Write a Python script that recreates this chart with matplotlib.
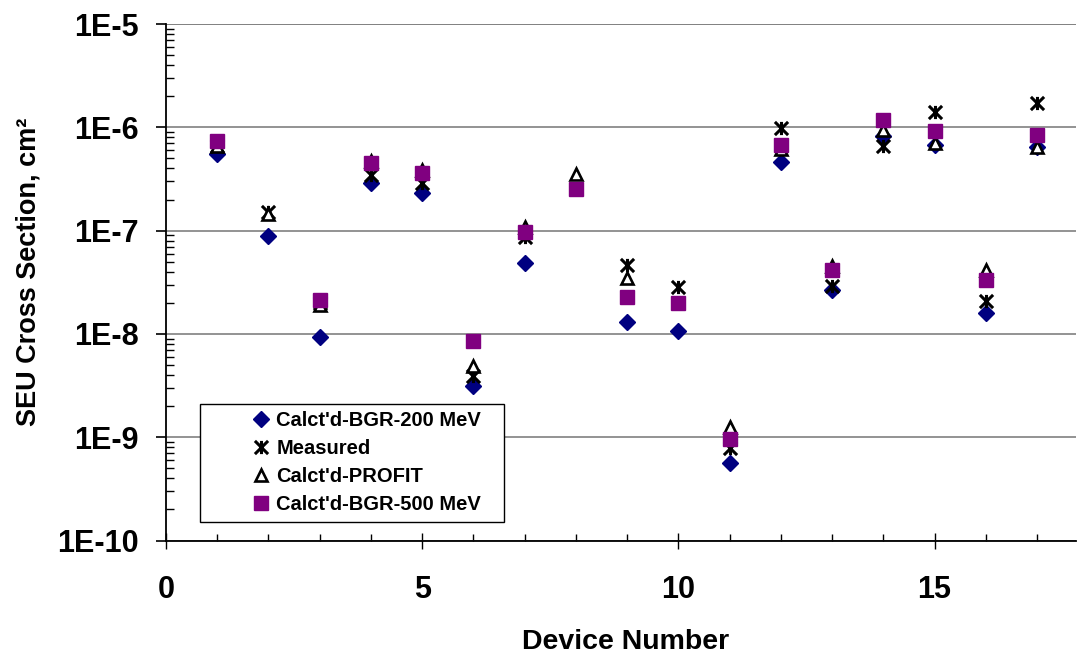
import numpy as np
import matplotlib
matplotlib.use('Agg')
import matplotlib.pyplot as plt
from matplotlib.path import Path
from matplotlib.patches import Rectangle
from matplotlib.ticker import FixedLocator, FuncFormatter, MultipleLocator

# device numbers and cross sections (cm^2); nan = point not shown
devices = np.arange(1, 18)
bgr200 = [5.5e-7, 8.8e-8, 9.4e-9, 2.9e-7, 2.3e-7, 3.1e-9, 4.9e-8, np.nan, 1.3e-8,
          1.07e-8, 5.6e-10, 4.6e-7, 2.65e-8, 8.2e-7, 6.8e-7, 1.6e-8, 6.4e-7]
measured = [6.6e-7, 1.5e-7, 2.0e-8, 3.45e-7, 2.9e-7, 3.9e-9, 8.6e-8, np.nan, 4.6e-8,
            2.85e-8, 7.9e-10, 9.8e-7, 2.9e-8, 6.6e-7, 1.42e-6, 2.1e-8, 1.72e-6]
profit = [6.6e-7, 1.45e-7, 1.9e-8, 4.7e-7, 3.9e-7, 4.9e-9, 1.09e-7, 3.55e-7, 3.45e-8,
          np.nan, 1.25e-9, 6.2e-7, 4.5e-8, 9.5e-7, 7.1e-7, 4.2e-8, 6.5e-7]
bgr500 = [7.4e-7, np.nan, 2.13e-8, 4.5e-7, 3.65e-7, 8.5e-9, 9.6e-8, 2.55e-7, 2.3e-8,
          1.97e-8, 9.6e-10, 6.7e-7, 4.2e-8, 1.17e-6, 9.3e-7, 3.3e-8, 8.5e-7]
labels = ["Calct'd-BGR-200 MeV", "Measured", "Calct'd-PROFIT", "Calct'd-BGR-500 MeV"]
y_decades = [1e-10, 1e-9, 1e-8, 1e-7, 1e-6, 1e-5]

plt.rcParams['font.family'] = ['Liberation Sans', 'DejaVu Sans']
plt.rcParams['font.weight'] = 'bold'

# excel style star: x plus vertical bar
star = Path([(-1, -1), (1, 1), (-1, 1), (1, -1), (0, -1), (0, 1)],
            [Path.MOVETO, Path.LINETO, Path.MOVETO, Path.LINETO, Path.MOVETO, Path.LINETO])

fig = plt.figure(figsize=(10.78, 6.54), dpi=100)
W, H = 1078, 654
ax = fig.add_axes([166 / W, (H - 540.5) / H, 910 / W, 516.5 / H])

ax.plot(devices, bgr200, linestyle='none', marker='D', ms=8, mfc='#000080',
        mec='#000080', mew=1, label=labels[0], zorder=3)
ax.plot(devices, measured, linestyle='none', marker=star, ms=9.5, mec='black',
        mew=2.2, label=labels[1], zorder=4)
ax.plot(devices, profit, linestyle='none', marker='^', ms=9, mfc='white',
        mec='black', mew=1.9, label=labels[2], zorder=5)
ax.plot(devices, bgr500, linestyle='none', marker='s', ms=10.5, mfc='#800080',
        mec='#800080', mew=1, label=labels[3], zorder=6)

ax.set_yscale('log')
ax.set_ylim(1e-10, 1e-5)
ax.set_xlim(0, 17.76)

ax.yaxis.set_major_locator(FixedLocator(y_decades))
ax.yaxis.set_major_formatter(FuncFormatter(lambda v, p: '1E%d' % round(np.log10(v))))
ax.xaxis.set_major_locator(MultipleLocator(5))
ax.xaxis.set_minor_locator(MultipleLocator(1))

ax.tick_params(axis='y', which='major', direction='out', length=7.2, width=1.2,
               pad=12.5, labelsize=22)
ax.tick_params(axis='y', which='minor', direction='in', length=5.8, width=1.0)
ax.tick_params(axis='x', which='major', direction='inout', length=12, width=1.0,
               pad=19, labelsize=22)
ax.tick_params(axis='x', which='minor', direction='in', length=5, width=1.0)

ax.grid(True, axis='y', which='major', color='#808080', linewidth=1.2)
ax.set_axisbelow(True)
for s in ['top', 'right']:
    ax.spines[s].set_visible(False)
ax.spines['left'].set_linewidth(1.3)
ax.spines['bottom'].set_linewidth(1.3)
ax.axhline(1e-5, color='#808080', linewidth=1.2, zorder=0.5)

ax.set_ylabel('SEU Cross Section, cm²', fontsize=19.5, fontweight='bold')
ax.yaxis.set_label_coords(-0.137, 0.52)
ax.set_xlabel('Device Number', fontsize=20.5, fontweight='bold')
ax.xaxis.set_label_coords(0.505, -0.172)

# legend box drawn by hand (excel leaves a wide left margin)
box = Rectangle(((200 - 166) / 910, (540.5 - 522) / 516.5), 304 / 910, 118 / 516.5,
                transform=ax.transAxes, facecolor='white', edgecolor='black',
                linewidth=1.0, zorder=7)
ax.add_patch(box)
leg = ax.legend(loc='upper left', bbox_to_anchor=((251 - 166) / 910, (540.5 - 411) / 516.5),
                frameon=False, fontsize=14.5, borderpad=0, borderaxespad=0,
                handlelength=1.0, handletextpad=0.25, labelspacing=0.45)
leg.set_zorder(8)

fig.savefig('out.png', dpi=100)
